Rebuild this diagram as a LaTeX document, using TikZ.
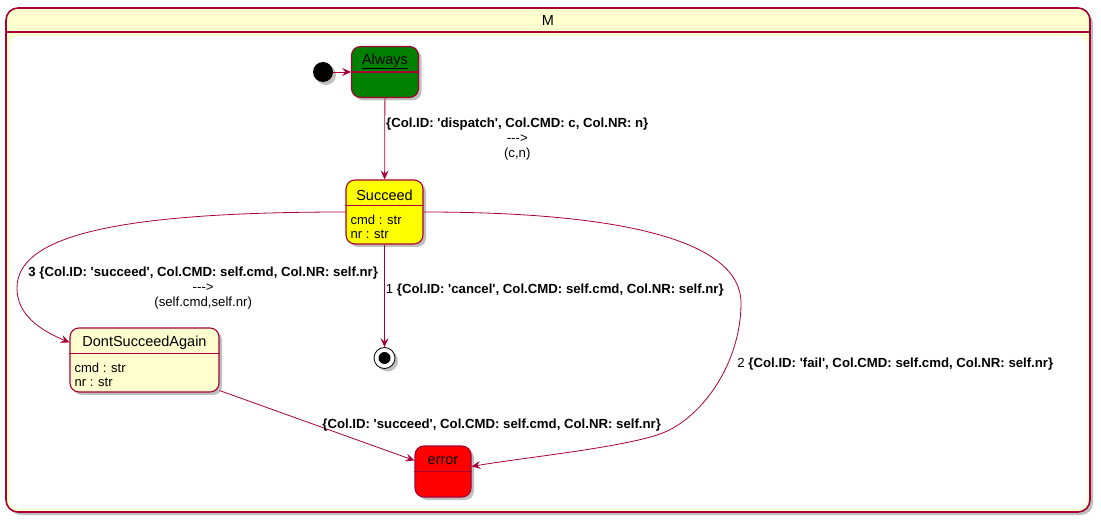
\documentclass[tikz,border=0pt]{standalone}
\usepackage{fontspec}
\newfontfamily\umlfont{Liberation Sans}
\usetikzlibrary{arrows.meta,shadows}

\definecolor{umlborder}{HTML}{A80036}
\definecolor{umlback}{HTML}{FEFECE}
\definecolor{umlgreen}{HTML}{008000}
\definecolor{umlyellow}{HTML}{FFFF00}
\definecolor{umlred}{HTML}{FF0000}

\tikzset{
  state/.style={draw=umlborder, line width=1.1pt, rounded corners=9pt, inner sep=0pt,
    drop shadow={shadow xshift=3pt, shadow yshift=-3pt, opacity=0.25, fill=black}},
  sep/.style={draw=umlborder, line width=1.2pt},
  title/.style={font=\umlfont\fontsize{14.5}{16}\selectfont, inner sep=0pt},
  attr/.style={font=\umlfont\fontsize{13}{13.5}\selectfont, align=left, inner sep=0pt, anchor=north west},
  lbl/.style={font=\umlfont\fontsize{13.2}{15}\selectfont, align=center, inner sep=1pt},
  edge/.style={draw=umlborder, line width=0.8pt, -{Stealth[length=9pt, width=8pt, inset=3.5pt]}},
}

\begin{document}
\begin{tikzpicture}[x=1pt, y=-1pt]

\path [use as bounding box] (0,0) rectangle (1101,521);

% CONTAINER
\node[state, fill=umlback, line width=1.6pt, rounded corners=12pt, minimum width=1084pt, minimum height=504pt] (m) at (548,260) {};
\fill[white, rounded corners=9pt] (10,36) rectangle (1087,509);
\draw[sep, line width=1.6pt] ([yshift=-25pt]m.north west) -- ([yshift=-25pt]m.north east);
\node[title] (mtitle) at ([yshift=-13pt]m.north) {M};

% STATES
\node[circle, fill=black, minimum size=20pt, inner sep=0pt,
  drop shadow={shadow xshift=3pt, shadow yshift=-3pt, opacity=0.25, fill=black}] (init) at (323,72) {};

\node[state, fill=umlgreen, minimum width=67pt, minimum height=51pt] (always) at (385,72) {};
\draw[sep] ([yshift=-26pt]always.north west) -- ([yshift=-26pt]always.north east);
\node[title] at ([yshift=-15.5pt]always.north) {\underline{Always}};

\node[state, fill=umlyellow, minimum width=77pt, minimum height=64pt] (succeed) at (384.5,212) {};
\draw[sep] ([yshift=-26pt]succeed.north west) -- ([yshift=-26pt]succeed.north east);
\node[title] at ([yshift=-15.5pt]succeed.north) {Succeed};
\node[attr] at ([xshift=5pt, yshift=-35.5pt]succeed.north west) {cmd : str\\nr : str};

\node[state, fill=umlback, minimum width=149pt, minimum height=64pt] (dsa) at (144.5,360) {};
\draw[sep] ([yshift=-26pt]dsa.north west) -- ([yshift=-26pt]dsa.north east);
\node[title] at ([yshift=-15.5pt]dsa.north) {DontSucceedAgain};
\node[attr] at ([xshift=5pt, yshift=-35.5pt]dsa.north west) {cmd : str\\nr : str};

\node[circle, draw=black, fill=white, line width=0.8pt, minimum size=21pt, inner sep=0pt,
  drop shadow={shadow xshift=3pt, shadow yshift=-3pt, opacity=0.25, fill=black}] (final) at (384.5,358) {};
\fill[black] (final.center) circle (6pt);

\node[state, fill=umlred, minimum width=56pt, minimum height=51pt] (error) at (443,471.5) {};
\draw[sep] ([yshift=-26pt]error.north west) -- ([yshift=-26pt]error.north east);
\node[title] at ([yshift=-15.5pt]error.north) {error};

% TRANSITIONS
\draw[edge] (init) -- (always);
\draw[edge] (always) -- node[lbl, anchor=west] {\textbf{\{Col.ID: 'dispatch', Col.CMD: c, Col.NR: n\}}\\--->\\(c,n)} (succeed);
\draw[edge] (succeed) -- node[lbl, pos=0.44, anchor=west] {1 \textbf{\{Col.ID: 'cancel', Col.CMD: self.cmd, Col.NR: self.nr\}}} (final);
\draw[edge] (succeed.west) .. controls (120,212) and (17,235) .. (17,288)
  node[lbl, anchor=west, xshift=10pt] {\textbf{3 \{Col.ID: 'succeed', Col.CMD: self.cmd, Col.NR: self.nr\}}\\--->\\(self.cmd,self.nr)}
  .. controls (17,315) and (40,330) .. ([yshift=-15pt]dsa.north west);
\draw[edge] (succeed.east) .. controls (620,212) and (741,240) .. (741,303)
  .. controls (741,365) and (700,420) .. node[lbl, pos=0.3, anchor=west, xshift=5pt, yshift=-8pt] {2 \textbf{\{Col.ID: 'fail', Col.CMD: self.cmd, Col.NR: self.nr\}}} (660,434)
  .. controls (620,448) and (520,458) .. ([yshift=5pt]error.east);
\draw[edge] ([yshift=2pt]dsa.south east) -- node[lbl, anchor=west, xshift=4pt, yshift=0pt] {\textbf{\{Col.ID: 'succeed', Col.CMD: self.cmd, Col.NR: self.nr\}}} ([yshift=11pt]error.west);

\end{tikzpicture}
\end{document}
